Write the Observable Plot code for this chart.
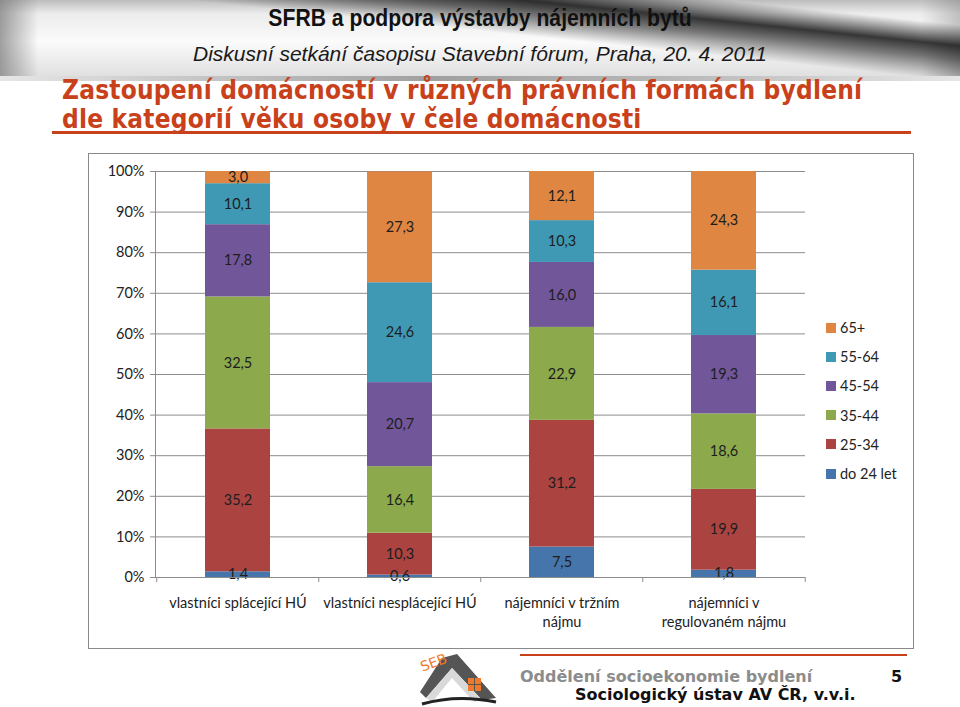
<!DOCTYPE html>
<html><head><meta charset="utf-8">
<script src="https://cdn.jsdelivr.net/npm/d3@7"></script>
<script src="https://cdn.jsdelivr.net/npm/@observablehq/plot@0.6"></script>
<style>
html,body{margin:0;padding:0;}
body{width:960px;height:707px;overflow:hidden;background:#fff;position:relative;font-family:"Liberation Sans",Arial,sans-serif;}
#hdr{position:absolute;left:0;top:0;width:960px;height:76px;
 background:
  linear-gradient(186deg, rgba(20,20,20,0) 14%, rgba(20,20,20,0.85) 26%, rgba(20,20,20,0.55) 34%, rgba(20,20,20,0) 46%),
  linear-gradient(to right, rgba(120,120,120,0.7) 0%, rgba(255,255,255,0) 4%, rgba(255,255,255,0) 96%, rgba(120,120,120,0.4) 100%),
  linear-gradient(to bottom, #bdbdbd 0%, #ececec 18%, #fbfbfb 55%, #e0e0e0 100%);}
#strip{position:absolute;left:0;top:76px;width:960px;height:5px;background:linear-gradient(to right,#e6e6e6,#a0a0a0 45%,#b8b8b8 70%,#e6e6e6);}
#t1{position:absolute;left:0;width:960px;top:5px;text-align:center;font-weight:bold;font-size:23px;color:#111;transform:scaleX(0.92);transform-origin:480px 0;}
#t2{position:absolute;left:0;width:960px;top:42px;text-align:center;font-style:italic;font-size:21px;color:#1a1a1a;}
#title{position:absolute;left:62px;top:76px;font-family:"DejaVu Sans Condensed","DejaVu Sans",sans-serif;font-weight:bold;font-size:26px;line-height:29px;letter-spacing:0.2px;color:#C8411B;white-space:nowrap;}
#tline{position:absolute;left:52px;top:131px;width:859px;height:3px;background:#C8411B;}
#box{position:absolute;left:88px;top:153px;width:824px;height:494px;border:1px solid #8a8a8a;background:#fff;}
#chart{position:absolute;left:88px;top:153px;}
#legend{position:absolute;left:826px;top:313px;font-family:Lato,sans-serif;font-size:14.5px;color:#222;}
#legend div{height:29.2px;display:flex;align-items:center;white-space:nowrap;}
#legend span.sw{display:inline-block;width:10px;height:10px;margin-right:4px;}
#fline{position:absolute;left:520px;top:654px;width:387px;height:2px;background:#C8411B;}
#f1{position:absolute;left:520px;top:667px;font-family:"DejaVu Sans",sans-serif;font-weight:bold;font-size:16px;color:#8c8c8c;white-space:nowrap;}
#fn{position:absolute;left:891px;top:667px;font-family:"DejaVu Sans",sans-serif;font-weight:bold;font-size:16px;color:#111;}
#f2{position:absolute;left:575px;top:685px;font-family:"DejaVu Sans",sans-serif;font-weight:bold;font-size:16px;color:#111;white-space:nowrap;}
#logo{position:absolute;left:412px;top:648px;}
</style></head><body>
<div id="hdr"></div>
<div id="strip"></div>
<div id="t1">SFRB a podpora výstavby nájemních bytů</div>
<div id="t2">Diskusní setkání časopisu Stavební fórum, Praha, 20. 4. 2011</div>
<div id="title">Zastoupení domácností v různých právních formách bydlení<br>dle kategorií věku osoby v čele domácnosti</div>
<div id="tline"></div>
<div id="box"></div>
<div id="chart"></div>
<div id="legend"></div>
<svg id="logo" width="90" height="59" viewBox="0 0 90 59">
 <polygon points="8,44 30,10 45,6 84,50 70,52 40,20 14,50" fill="#555"/>
 <polygon points="14,50 40,20 70,52 62,54 40,30 20,54" fill="#d9d9d9"/>
 <path d="M10,56 Q45,46 84,54" stroke="#222" stroke-width="3" fill="none"/>
 <rect x="56" y="30" width="6" height="6" fill="#F07A2A"/><rect x="63" y="30" width="6" height="6" fill="#F07A2A"/>
 <rect x="56" y="37" width="6" height="6" fill="#F07A2A"/><rect x="63" y="37" width="6" height="6" fill="#F07A2A"/>
 <text x="8" y="20" font-family="DejaVu Sans" font-size="14" fill="#F07A2A" transform="rotate(-20 20 15)">SEB</text>
</svg>
<div id="fline"></div>
<div id="f1">Oddělení socioekonomie bydlení</div>
<div id="fn">5</div>
<div id="f2">Sociologický ústav AV ČR, v.v.i.</div>
<script>
// ---- data ----
const categories = ["vlastníci splácející HÚ", "vlastníci nesplácející HÚ", "nájemníci v tržním nájmu", "nájemníci v regulovaném nájmu"];
const categoryLabels = ["vlastníci splácející HÚ", "vlastníci nesplácející HÚ", "nájemníci v tržním\nnájmu", "nájemníci v\nregulovaném nájmu"];
const ageGroups = ["do 24 let", "25-34", "35-44", "45-54", "55-64", "65+"];
const do24 = [1.4, 0.6, 7.5, 1.8];
const age25_34 = [35.2, 10.3, 31.2, 19.9];
const age35_44 = [32.5, 16.4, 22.9, 18.6];
const age45_54 = [17.8, 20.7, 16.0, 19.3];
const age55_64 = [10.1, 24.6, 10.3, 16.1];
const age65 = [3.0, 27.3, 12.1, 24.3];
const yTicks = [0, 10, 20, 30, 40, 50, 60, 70, 80, 90, 100];
const colors = ["#4675AC", "#AB4441", "#8CAA4C", "#72569A", "#4099B4", "#DF8642"];

const series = [do24, age25_34, age35_44, age45_54, age55_64, age65];
const rows = [];
series.forEach((vals, gi) => vals.forEach((v, ci) => rows.push({cat: categories[ci], group: ageGroups[gi], value: v})));
const fmt = v => v.toFixed(1).replace(".", ",");
const grid = "#8c8c8c";
const halfStep = 81.25;

const chart = Plot.plot({
  width: 825, height: 495,
  marginLeft: 67, marginRight: 108, marginTop: 18, marginBottom: 71,
  style: {fontFamily: "Lato, sans-serif", fontSize: "14.5px", color: "#222", background: "transparent", overflow: "visible"},
  x: {domain: categories, paddingInner: 0.6, paddingOuter: 0.3, label: null},
  y: {domain: [0, 100], label: null},
  color: {domain: ageGroups, range: colors},
  marks: [
    Plot.gridY(yTicks, {stroke: grid, strokeOpacity: 1}),
    Plot.barY(rows, {x: "cat", y: "value", fill: "group", order: ageGroups}),
    Plot.text(rows, Plot.stackY({x: "cat", y: "value", z: "group", order: ageGroups, text: d => fmt(d.value), fill: "#1d1d1d", fontSize: 14.5})),
    Plot.axisY({ticks: yTicks, tickFormat: d => d + "%", tickSize: 5, tickPadding: 6, stroke: grid, fontSize: 14.5}),
    Plot.axisX({tickSize: 0, tickPadding: 17, tickFormat: (d) => categoryLabels[categories.indexOf(d)], lineHeight: 1.33, fontSize: 14.5}),
    Plot.ruleX(categories, {dx: -halfStep, stroke: grid, insetTop: 406, insetBottom: -5}),
    Plot.ruleX([categories[3]], {dx: halfStep, stroke: grid, insetTop: 406, insetBottom: -5}),
    Plot.ruleY([0], {stroke: grid}),
    Plot.frame({anchor: "left", stroke: grid})
  ]
});
document.getElementById("chart").appendChild(chart);

const legend = document.getElementById("legend");
ageGroups.slice().reverse().forEach(g => {
  const row = document.createElement("div");
  const sw = document.createElement("span");
  sw.className = "sw";
  sw.style.background = colors[ageGroups.indexOf(g)];
  row.appendChild(sw);
  row.appendChild(document.createTextNode(g));
  legend.appendChild(row);
});
</script>
</body></html>
